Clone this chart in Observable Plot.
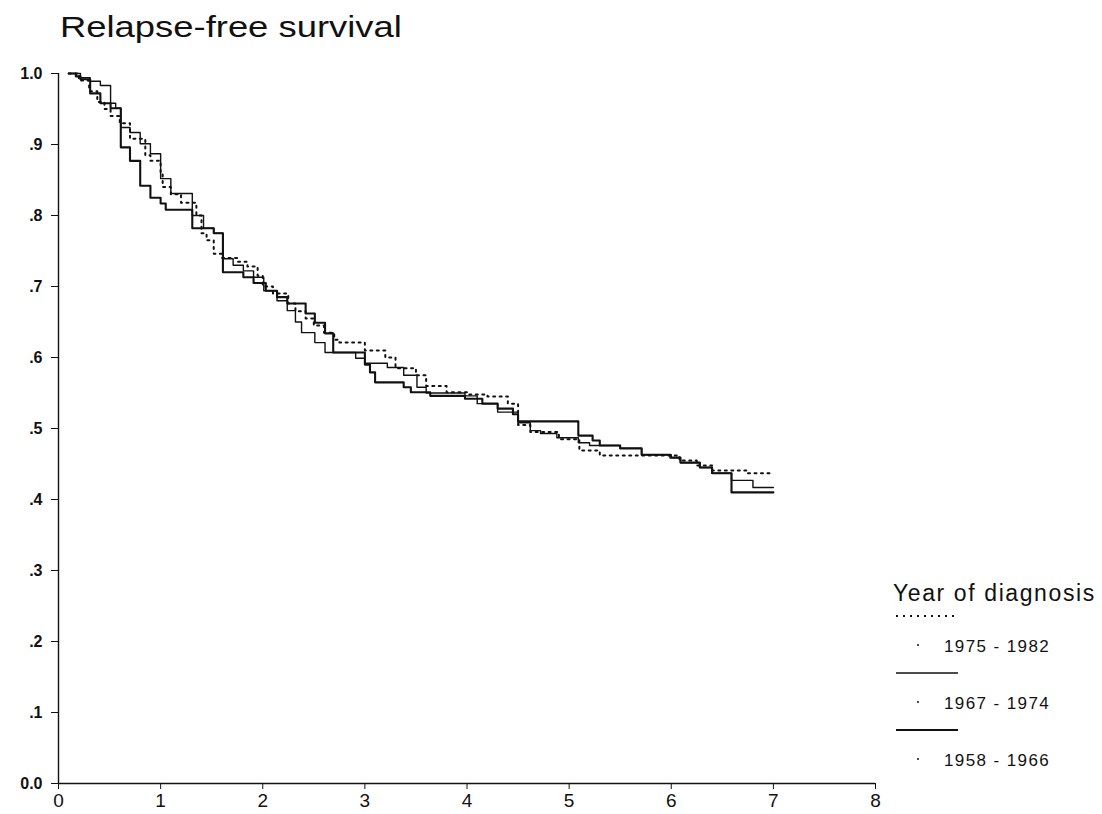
<!DOCTYPE html>
<html><head><meta charset="utf-8">
<script src="https://cdn.jsdelivr.net/npm/d3@7"></script>
<script src="https://cdn.jsdelivr.net/npm/@observablehq/plot@0.6"></script>
<style>
body{margin:0;background:#fff;font-family:"Liberation Sans",Arial,sans-serif;}
#wrap{position:relative;width:1102px;height:814px;overflow:hidden;}
#title{position:absolute;left:60px;top:13px;font-size:29px;line-height:29px;color:#111;transform:scaleX(1.255);transform-origin:left top;white-space:nowrap;}
#chart{position:absolute;left:0;top:60px;}
#legend{position:absolute;left:0;top:0;}
</style></head>
<body><div id="wrap"><div id="title">Relapse-free survival</div><div id="chart"></div><svg id="legend" width="1102" height="814"></svg></div>
<script>
// 1975 - 1982 (dotted)
const t1975 = [0.10,0.20,0.30,0.38,0.45,0.51,0.60,0.70,0.85,0.90,1.00,1.02,1.10,1.20,1.35,1.40,1.45,1.52,1.60,1.75,1.85,1.95,2.00,2.10,2.25,2.32,2.42,2.50,2.60,2.70,2.75,3.00,3.20,3.30,3.50,3.60,3.80,4.00,4.20,4.40,4.50,4.62,4.90,5.10,5.30,6.08,6.25,6.40,6.75,7.00];
const s1975 = [1.0,0.99,0.975,0.96,0.95,0.94,0.93,0.908,0.885,0.877,0.86,0.84,0.83,0.818,0.80,0.775,0.765,0.746,0.74,0.735,0.728,0.715,0.70,0.69,0.676,0.665,0.655,0.645,0.635,0.625,0.621,0.61,0.60,0.585,0.575,0.56,0.551,0.548,0.545,0.535,0.505,0.495,0.485,0.469,0.462,0.455,0.448,0.441,0.437,0.437];
// 1967 - 1974 (thin solid)
const t1967 = [0.10,0.215,0.31,0.41,0.51,0.56,0.61,0.70,0.80,0.90,1.00,1.10,1.31,1.42,1.52,1.61,1.71,1.81,1.91,2.01,2.14,2.24,2.32,2.38,2.51,2.61,2.91,3.00,3.22,3.38,3.51,3.60,3.98,4.10,4.30,4.50,4.62,4.72,4.88,5.09,5.20,5.50,5.71,6.00,6.09,6.28,6.40,6.59,6.80,7.00];
const s1967 = [1.0,0.994,0.989,0.983,0.958,0.951,0.924,0.917,0.901,0.887,0.852,0.831,0.80,0.782,0.775,0.739,0.73,0.722,0.713,0.694,0.68,0.666,0.65,0.635,0.621,0.607,0.599,0.592,0.586,0.575,0.558,0.55,0.546,0.535,0.523,0.508,0.497,0.493,0.487,0.48,0.476,0.472,0.463,0.459,0.452,0.445,0.437,0.427,0.417,0.417];
// 1958 - 1966 (thick solid)
const t1958 = [0.10,0.17,0.215,0.31,0.41,0.51,0.61,0.70,0.80,0.90,1.00,1.05,1.31,1.52,1.61,1.81,1.91,2.03,2.14,2.24,2.42,2.51,2.61,2.69,3.00,3.05,3.10,3.38,3.45,3.64,3.98,4.15,4.30,4.45,4.50,5.09,5.23,5.30,5.50,5.71,5.99,6.09,6.28,6.40,6.59,7.00];
const s1958 = [1.0,0.996,0.992,0.972,0.958,0.951,0.896,0.877,0.842,0.825,0.817,0.808,0.782,0.775,0.72,0.713,0.705,0.694,0.685,0.676,0.662,0.649,0.634,0.607,0.59,0.579,0.565,0.558,0.551,0.546,0.542,0.535,0.528,0.52,0.51,0.49,0.483,0.476,0.472,0.463,0.459,0.452,0.445,0.437,0.41,0.41];

const xTicks = [0,1,2,3,4,5,6,7,8];
const yTicks = [0,0.1,0.2,0.3,0.4,0.5,0.6,0.7,0.8,0.9,1.0];
const yTickLabels = ["0.0",".1",".2",".3",".4",".5",".6",".7",".8",".9","1.0"];
const legendTitle = "Year of diagnosis";
const groups = ["1975 - 1982","1967 - 1974","1958 - 1966"];

const toRows = (ts, ss) => ts.map((t, i) => ({t, s: ss[i]}));
const d1975 = toRows(t1975, s1975), d1967 = toRows(t1967, s1967), d1958 = toRows(t1958, s1958);

const chart = Plot.plot({
  width: 1102, height: 754,
  marginTop: 13, marginBottom: 31, marginLeft: 58, marginRight: 227,
  style: {fontFamily: '"Liberation Sans", Arial, sans-serif', color: "#111", background: "transparent"},
  x: {domain: [0, 8]},
  y: {domain: [0, 1]},
  marks: [
    Plot.ruleX([0], {y1: 0, y2: 1, stroke: "#111", strokeWidth: 1.4}),
    Plot.ruleY([0], {x1: 0, x2: 8, stroke: "#111", strokeWidth: 1.4}),
    Plot.axisY({ticks: yTicks, tickFormat: d => yTickLabels[yTicks.indexOf(d)], tickSize: 7, tickPadding: 9, fontSize: 16, fontWeight: "bold", label: null}),
    Plot.axisX({ticks: xTicks, tickSize: 6, tickPadding: 4, fontSize: 19, label: null}),
    Plot.line(d1975, {x: "t", y: "s", curve: "step-after", stroke: "#111", strokeWidth: 2, strokeDasharray: "2,4.5"}),
    Plot.line(d1967, {x: "t", y: "s", curve: "step-after", stroke: "#111", strokeWidth: 1.4}),
    Plot.line(d1958, {x: "t", y: "s", curve: "step-after", stroke: "#111", strokeWidth: 2.1})
  ]
});
document.getElementById("chart").appendChild(chart);

// legend
const lg = d3.select("#legend");
lg.append("text").attr("x", 893).attr("y", 601).attr("font-size", 23).attr("letter-spacing", "1.6px").attr("fill", "#111").text(legendTitle);
const styles = [{w: 2, dash: "2,5"}, {w: 1.4, dash: null}, {w: 2.1, dash: null}];
groups.forEach((g, i) => {
  const ly = 616 + i * 57;
  lg.append("line").attr("x1", 896).attr("x2", 958).attr("y1", ly).attr("y2", ly)
    .attr("stroke", "#111").attr("stroke-width", styles[i].w).attr("stroke-dasharray", styles[i].dash);
  lg.append("circle").attr("cx", 918).attr("cy", ly + 29).attr("r", 1).attr("fill", "#111");
  lg.append("text").attr("x", 944).attr("y", ly + 36).attr("font-size", 17).attr("letter-spacing", "1.4px").attr("fill", "#111").text(g);
});
</script></body></html>
